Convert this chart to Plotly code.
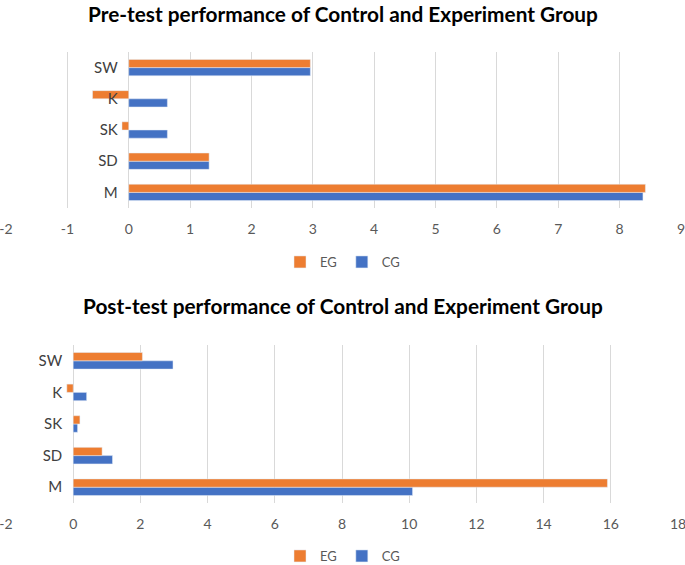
import plotly.graph_objects as go

categories = ["M", "SD", "SK", "K", "SW"]

pre_cg = [8.38, 1.31, 0.63, 0.63, 2.96]
pre_eg = [8.42, 1.31, -0.11, -0.59, 2.96]

post_cg = [10.10, 1.17, 0.13, 0.40, 2.97]
post_eg = [15.90, 0.86, 0.20, -0.19, 2.06]

pre_ticks = list(range(-2, 10))
post_ticks = list(range(-2, 20, 2))

titles = ["Pre-test performance of Control and Experiment Group",
          "Post-test performance of Control and Experiment Group"]

BLUE = "#4472C4"
ORANGE = "#ED7D31"
GRID = "#D9D9D9"
FONT = "Lato, Open Sans, sans-serif"
W, H = 685, 565

fig = go.Figure()
fig.add_trace(go.Bar(y=categories, x=pre_cg, orientation="h", name="CG",
                     marker_color=BLUE, xaxis="x", yaxis="y", legend="legend", legendrank=2))
fig.add_trace(go.Bar(y=categories, x=pre_eg, orientation="h", name="EG",
                     marker_color=ORANGE, xaxis="x", yaxis="y", legend="legend", legendrank=1))
fig.add_trace(go.Bar(y=categories, x=post_cg, orientation="h", name="CG",
                     marker_color=BLUE, xaxis="x2", yaxis="y2", legend="legend2", legendrank=2))
fig.add_trace(go.Bar(y=categories, x=post_eg, orientation="h", name="EG",
                     marker_color=ORANGE, xaxis="x2", yaxis="y2", legend="legend2", legendrank=1))

tickfont = dict(family=FONT, size=14, color="#595959")
catfont = dict(family=FONT, size=15, color="#404040")

def xax(dom, ydom_anchor, rng, ticks):
    return dict(domain=dom, anchor=ydom_anchor, range=rng, tickvals=ticks,
                ticktext=[str(t) for t in ticks],
                showgrid=True, gridcolor=GRID, gridwidth=1, zeroline=True,
                zerolinecolor=GRID, zerolinewidth=1, showline=False, ticks="",
                tickfont=tickfont, ticklabelstandoff=11, fixedrange=True,
                automargin=False, ticklabeloverflow="allow")

def yax(dom, pos):
    return dict(domain=dom, anchor="free", position=pos, categoryorder="array",
                categoryarray=categories, showgrid=False, zeroline=False,
                showline=False, ticks="", tickfont=catfont, ticklabelstandoff=11,
                fixedrange=True, automargin=False)

x1_left, x1_right = 6 / W, 681 / W
x2_left, x2_right = 6 / W, 678 / W

fig.update_layout(
    width=W, height=H,
    margin=dict(l=0, r=0, t=0, b=0, autoexpand=False),
    paper_bgcolor="white", plot_bgcolor="white",
    barmode="group", bargap=0.476, bargroupgap=0,
    font=dict(family=FONT, color="#404040"),
    xaxis=xax([x1_left, x1_right], "y", [-2, 9], pre_ticks),
    yaxis=yax([1 - 208 / H, 1 - 52 / H], x1_left + (x1_right - x1_left) * (2 / 11)),
    xaxis2=xax([x2_left, x2_right], "y2", [-2, 18], post_ticks),
    yaxis2=yax([1 - 503 / H, 1 - 345 / H], x2_left + (x2_right - x2_left) * (2 / 20)),
    legend=dict(orientation="h", x=0.5, xanchor="center", y=1 - 262 / H, yanchor="middle",
                font=dict(family=FONT, size=13, color="#595959"), itemwidth=30,
                traceorder="normal"),
    legend2=dict(orientation="h", x=0.5, xanchor="center", y=1 - 556 / H, yanchor="middle",
                 font=dict(family=FONT, size=13, color="#595959"), itemwidth=30,
                 traceorder="normal"),
    annotations=[
        dict(text="<b>" + titles[0] + "</b>", x=0.5, y=1 - 14 / H, xref="paper", yref="paper",
             xanchor="center", yanchor="middle", showarrow=False,
             font=dict(family=FONT, size=20.8, color="#000000")),
        dict(text="<b>" + titles[1] + "</b>", x=0.5, y=1 - 305 / H, xref="paper", yref="paper",
             xanchor="center", yanchor="middle", showarrow=False,
             font=dict(family=FONT, size=20.8, color="#000000")),
    ],
)

fig.write_html("out.html",
               config={"displayModeBar": False, "staticPlot": True},
               post_script="document.body.style.margin='0';document.body.style.overflow='hidden';")
